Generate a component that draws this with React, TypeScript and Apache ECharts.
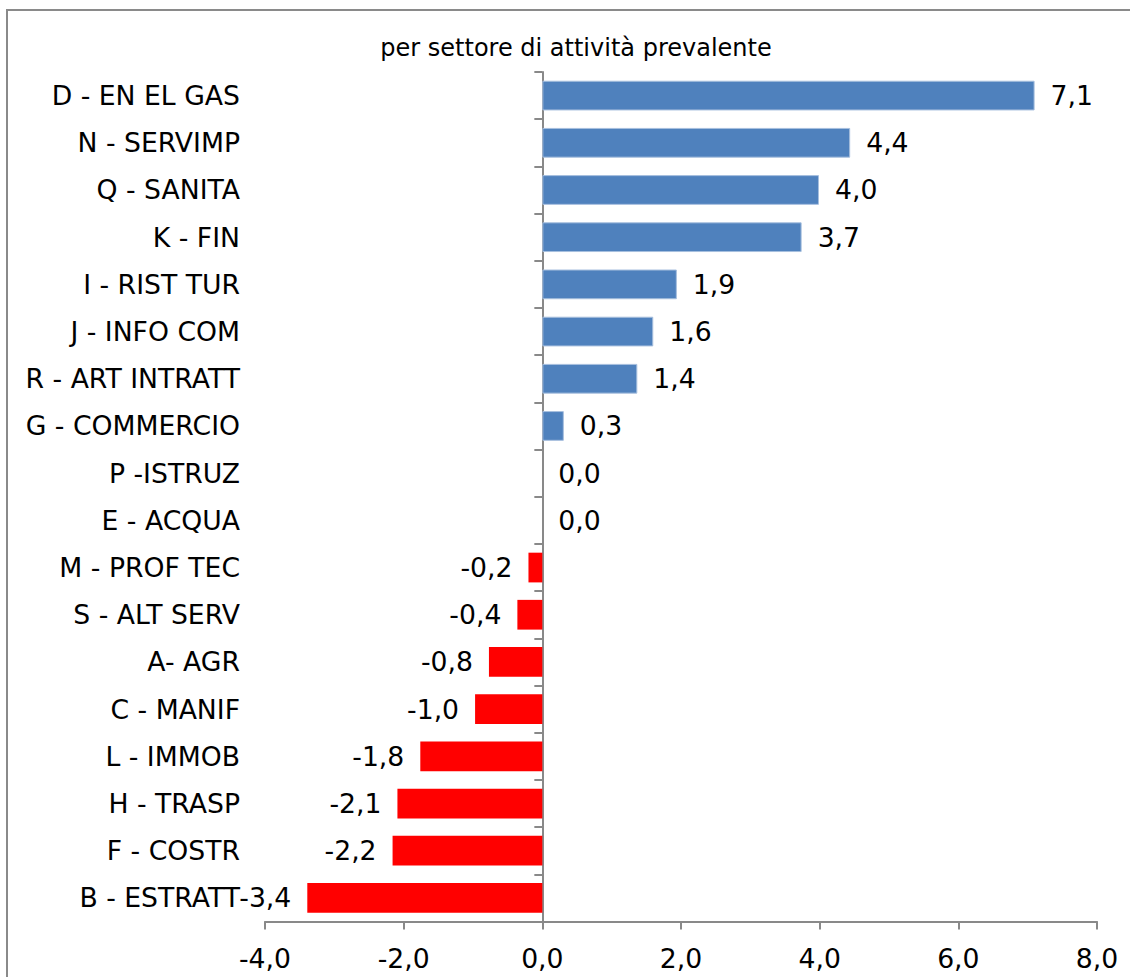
import React, { useEffect, useRef } from "react";
import * as echarts from "echarts";

const categories = [
  "D - EN EL GAS",
  "N - SERVIMP",
  "Q - SANITA",
  "K - FIN",
  "I - RIST TUR",
  "J - INFO COM",
  "R - ART INTRATT",
  "G - COMMERCIO",
  "P -ISTRUZ",
  "E - ACQUA",
  "M - PROF TEC",
  "S - ALT SERV",
  "A- AGR",
  "C - MANIF",
  "L - IMMOB",
  "H - TRASP",
  "F - COSTR",
  "B - ESTRATT",
];

const values = [7.1, 4.44, 3.99, 3.74, 1.94, 1.6, 1.37, 0.31, 0.0, 0.0, -0.2, -0.36, -0.77, -0.97, -1.76, -2.09, -2.16, -3.39];

const xTicks = [-4, -2, 0, 2, 4, 6, 8];

const titleText = "per settore di attività prevalente";

const POS_COLOR = "#4F81BD";
const NEG_COLOR = "#FF0000";
const AXIS_COLOR = "#898989";
const FONT = "DejaVu Sans";
const FS = 26.67;

const fmt = (v: number) => {
  const s = (Math.round(v * 10) / 10).toFixed(1).replace(".", ",");
  return s === "-0,0" ? "0,0" : s;
};

export default function App() {
  const ref = useRef<HTMLDivElement>(null);
  useEffect(() => {
    if (!ref.current) return;
    const chart = echarts.init(ref.current, undefined, { renderer: "svg" });
    const data = values.map((v) => ({
      value: v,
      itemStyle: {
        color: v < 0 ? NEG_COLOR : POS_COLOR,
        borderColor: v < 0 ? NEG_COLOR : "#A7BFDE",
        borderWidth: v > 0 ? 1 : 0,
      },
      label: { position: v < 0 ? "left" : "right" },
    }));
    chart.setOption({
      animation: false,
      backgroundColor: "#fff",
      textStyle: { fontFamily: FONT, color: "#000" },
      title: {
        text: titleText,
        left: 571,
        textAlign: "center",
        top: 31,
        textStyle: { fontFamily: FONT, fontSize: 24, fontWeight: "normal", color: "#000" },
      },
      grid: { left: 265, right: 33, top: 72, bottom: 55.5, containLabel: false, outerBoundsMode: "none" },
      xAxis: {
        type: "value",
        min: xTicks[0],
        max: xTicks[xTicks.length - 1],
        interval: 2,
        splitLine: { show: false },
        axisLine: { show: true, lineStyle: { color: AXIS_COLOR, width: 2 } },
        axisTick: { show: true, length: 8, lineStyle: { color: AXIS_COLOR, width: 2 } },
        axisLabel: {
          fontFamily: FONT,
          fontSize: FS,
          color: "#000",
          margin: 23,
          formatter: (v: number) => fmt(v),
        },
      },
      yAxis: {
        type: "category",
        data: categories,
        inverse: true,
        axisLine: { show: true, onZero: true, lineStyle: { color: AXIS_COLOR, width: 2 } },
        axisTick: { show: true, length: 8, alignWithLabel: false, lineStyle: { color: AXIS_COLOR, width: 2 } },
        axisLabel: {
          fontFamily: FONT,
          fontSize: FS,
          color: "#000",
          margin: 25,
          align: "right",
        },
        splitLine: { show: false },
      },
      series: [
        {
          type: "bar",
          data,
          barWidth: "63%",
          label: {
            show: true,
            distance: 16,
            fontFamily: FONT,
            fontSize: FS,
            color: "#000",
            formatter: (p: any) => fmt(p.value),
          },
        },
      ],
    });
    return () => chart.dispose();
  }, []);

  return (
    <div style={{ position: "absolute", left: 0, top: 0, width: 1130, height: 977, overflow: "hidden", background: "#fff" }}>
      <div ref={ref} style={{ position: "absolute", left: 0, top: 0, width: 1130, height: 977 }} />
      <div
        style={{
          position: "absolute",
          left: 6,
          top: 9,
          width: 1200,
          height: 1100,
          border: "2px solid #8a8a8a",
          pointerEvents: "none",
        }}
      />
    </div>
  );
}
